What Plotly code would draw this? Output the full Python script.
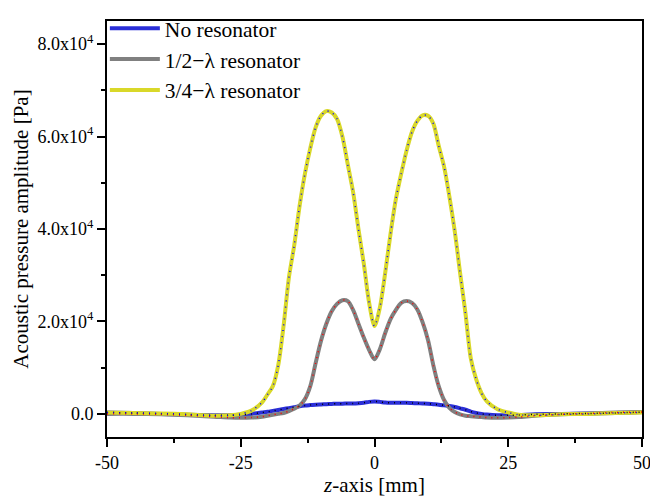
import plotly.graph_objects as go

# z-axis positions [mm]
z_mm = [-50, -45, -40, -35, -30, -27, -25, -23, -21, -20, -19, -18, -17, -16, -15,
        -14, -13, -12, -11, -10, -9, -8, -7, -6, -5, -4, -3, -2, -1, 0,
        1, 2, 3, 4, 5, 6, 7, 8, 9, 10, 11, 12, 13, 14, 15, 16, 17, 18, 19, 20,
        21, 23, 25, 27, 30, 35, 40, 45, 50]

# Acoustic pressure amplitude [Pa]
no_resonator = [300, 200, 0, -200, -300, -300, -200, 0, 300, 450, 650, 850, 1050, 1250, 1450,
                1650, 1800, 1900, 2000, 2050, 2100, 2150, 2200, 2200, 2250, 2250, 2300, 2400, 2600, 2700,
                2600, 2450, 2400, 2400, 2400, 2400, 2350, 2300, 2250, 2200, 2100, 2000, 1850, 1700, 1500,
                1200, 900, 500, 200, 0,
                -150, -300, -300, -250, -100, 0, 100, 200, 400]

half_lambda = [0, 0, -100, -300, -600, -800, -850, -800, -600, -400, -200, 0, 200, 600, 1100,
               1800, 3200, 6000, 11000, 15800, 19500, 22200, 23800, 24600, 24400, 22500, 19500, 16500, 13800, 11800,
               14000, 17500, 20500, 22500, 24000, 24400, 24000, 22600, 19800, 16000, 10500, 6000, 3000, 1300, 400,
               -100, -400, -500, -600, -700,
               -800, -850, -800, -700, -400, -100, 100, 300, 400]

three_quarter_lambda = [300, 200, 100, -100, -400, -300, 0, 700, 2500, 4200, 6000, 10500, 19000, 29500, 36500,
                        45000, 52000, 57500, 62000, 64500, 65500, 65200, 63800, 60000, 54000, 48000, 40000, 32500, 24000, 19000,
                        23000, 30500, 39000, 46500, 52000, 57000, 61000, 63400, 64600, 64500, 62800, 58000, 53500, 47000, 39500,
                        30500, 21800, 12000, 7500, 4500,
                        2700, 1000, 300, -200, -300, -100, 0, 200, 300]

series_names = ["No resonator", "1/2\u2212\u03bb resonator", "3/4\u2212\u03bb resonator"]
series_values = [no_resonator, half_lambda, three_quarter_lambda]
line_colors = ["#2b2fd8", "#808080", "#d9d829"]
dot_colors = ["#000000", "#ff0000", "#0000ff"]

y_tickvals = [0, 20000, 40000, 60000, 80000]
y_ticktext = ["0.0", "2.0x10<sup>4</sup>", "4.0x10<sup>4</sup>", "6.0x10<sup>4</sup>", "8.0x10<sup>4</sup>"]
x_tickvals = [-50, -25, 0, 25, 50]
x_ticktext = ["-50", "-25", "0", "25", "50"]

fig = go.Figure()
for name, vals, lc in zip(series_names, series_values, line_colors):
    fig.add_trace(go.Scatter(x=z_mm, y=vals, mode="lines", name=name,
                             line=dict(color=lc, width=4, shape="spline", smoothing=0.8)))
for vals, dc in zip(series_values, dot_colors):
    fig.add_trace(go.Scatter(x=z_mm, y=vals, mode="lines", showlegend=False, hoverinfo="skip",
                             line=dict(color=dc, width=1.5, dash="1px,5px", shape="spline", smoothing=0.8)))

font_family = "Liberation Serif, Times New Roman, serif"
axis_common = dict(showline=True, linecolor="black", linewidth=2, mirror=True,
                   ticks="outside", ticklen=8, tickwidth=2, tickcolor="black",
                   showgrid=False, zeroline=False, ticklabeloverflow="allow",
                   tickfont=dict(family=font_family, size=18, color="black"))

fig.update_xaxes(range=[-50, 50], tickmode="array", tickvals=x_tickvals, ticktext=x_ticktext,
                 automargin="bottom",
                 minor=dict(ticks="outside", ticklen=4, tickwidth=2, tickcolor="black", dtick=12.5, tick0=-50),
                 title=dict(text="<i>z</i>-axis [mm]", font=dict(family=font_family, size=21, color="black"),
                            standoff=3),
                 **axis_common)
fig.update_yaxes(range=[-5000, 85000], tickmode="array", tickvals=y_tickvals, ticktext=y_ticktext,
                 automargin="left",
                 minor=dict(ticks="outside", ticklen=4, tickwidth=2, tickcolor="black", dtick=10000, tick0=0),
                 title=dict(text="Acoustic pressure amplitude [Pa]",
                            font=dict(family=font_family, size=21, color="black"), standoff=3),
                 **axis_common)

fig.update_layout(
    width=650, height=498,
    margin=dict(l=107, r=8, t=11, b=57),
    paper_bgcolor="white", plot_bgcolor="white",
    font=dict(family=font_family, color="black"),
    showlegend=True,
    legend=dict(x=-0.004, y=1.032, xanchor="left", yanchor="top", bgcolor="rgba(0,0,0,0)",
                font=dict(family=font_family, size=21.5, color="black"),
                itemwidth=50, tracegroupgap=0),
)

fig.write_html("out.html", config={"displayModeBar": False},
               post_script="document.body.style.margin='0px';")
